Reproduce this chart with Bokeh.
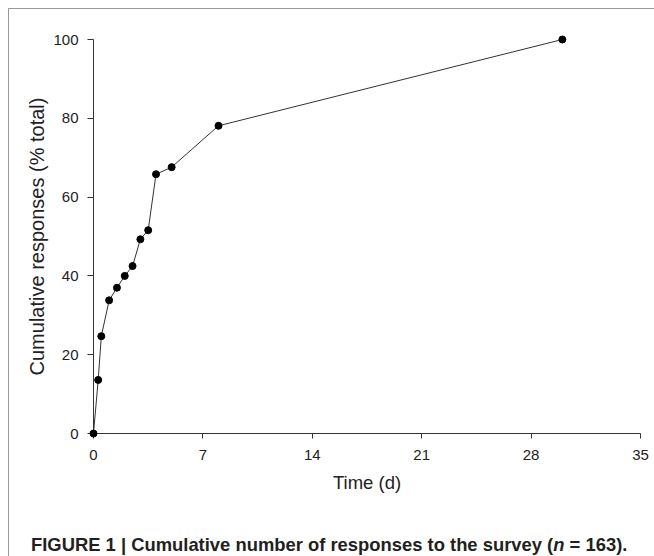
from bokeh.plotting import figure
from bokeh.models import Range1d, FixedTicker, Div
from bokeh.layouts import column
from bokeh.embed import file_html
from bokeh.resources import INLINE

# ---- data ----
days = [0, 0.3, 0.5, 1, 1.5, 2, 2.5, 3, 3.5, 4, 5, 8, 30]
cum_pct = [0, 13.6, 24.7, 33.8, 37.0, 40.0, 42.5, 49.3, 51.6, 65.8, 67.6, 78.1, 100]
x_ticks = [0, 7, 14, 21, 28, 35]
y_ticks = [0, 20, 40, 60, 80, 100]
x_label = "Time (d)"
y_label = "Cumulative responses (% total)"
caption_html = ("FIGURE 1 | Cumulative number of responses to the survey "
                "(<i>n</i> = 163).")

FONT = "Liberation Sans"
AX = "#333333"

p = figure(width=645, height=500, output_backend="svg", toolbar_location=None,
           x_range=Range1d(0, 35), y_range=Range1d(0, 100),
           min_border_left=84, min_border_right=14, min_border_top=30,
           min_border_bottom=76)
p.outline_line_color = None
p.grid.visible = False
p.background_fill_color = "white"
p.border_fill_color = "white"

r1 = p.line(days, cum_pct, line_color="#333333", line_width=1)
r2 = p.scatter(days, cum_pct, size=7, fill_color="black", line_color="black")
r1.level = "overlay"
r2.level = "overlay"

xa = p.xaxis[0]
xa.ticker = FixedTicker(ticks=x_ticks)
xa.major_tick_out = 5
xa.major_tick_in = 0
xa.minor_tick_out = 0
xa.minor_tick_in = 0
xa.axis_line_color = AX
xa.major_tick_line_color = AX
xa.major_label_text_font = FONT
xa.major_label_text_font_size = "15px"
xa.major_label_text_color = "#222222"
xa.major_label_standoff = 11
xa.axis_label = x_label
xa.axis_label_text_font = FONT
xa.axis_label_text_font_size = "18.5px"
xa.axis_label_text_font_style = "normal"
xa.axis_label_text_color = "#222222"
xa.axis_label_standoff = 9

ya = p.yaxis[0]
ya.ticker = FixedTicker(ticks=y_ticks)
ya.major_tick_out = 6
ya.major_tick_in = 0
ya.minor_tick_out = 0
ya.minor_tick_in = 0
ya.axis_line_color = AX
ya.major_tick_line_color = AX
ya.major_label_text_font = FONT
ya.major_label_text_font_size = "15px"
ya.major_label_text_color = "#222222"
ya.major_label_standoff = 9
ya.axis_label = y_label
ya.axis_label_text_font = FONT
ya.axis_label_text_font_size = "20px"
ya.axis_label_text_font_style = "normal"
ya.axis_label_text_color = "#222222"
ya.axis_label_standoff = 2

caption = Div(
    text=("<div style=\"padding: 20px 0 0 17px; font-family: 'Liberation Sans', Arial, sans-serif; "
          "font-size: 18.4px; font-weight: bold; color: #231f20; white-space: nowrap; "
          "line-height: 21px;\">" + caption_html + "</div>"),
    width=645, height=47)

layout = column(p, caption, spacing=0,
                styles={"margin-left": "8px", "margin-top": "8px",
                        "border-left": "1px solid #9a9a9a",
                        "border-top": "1px solid #9a9a9a"})

open("out.html", "w").write(file_html(layout, INLINE))
